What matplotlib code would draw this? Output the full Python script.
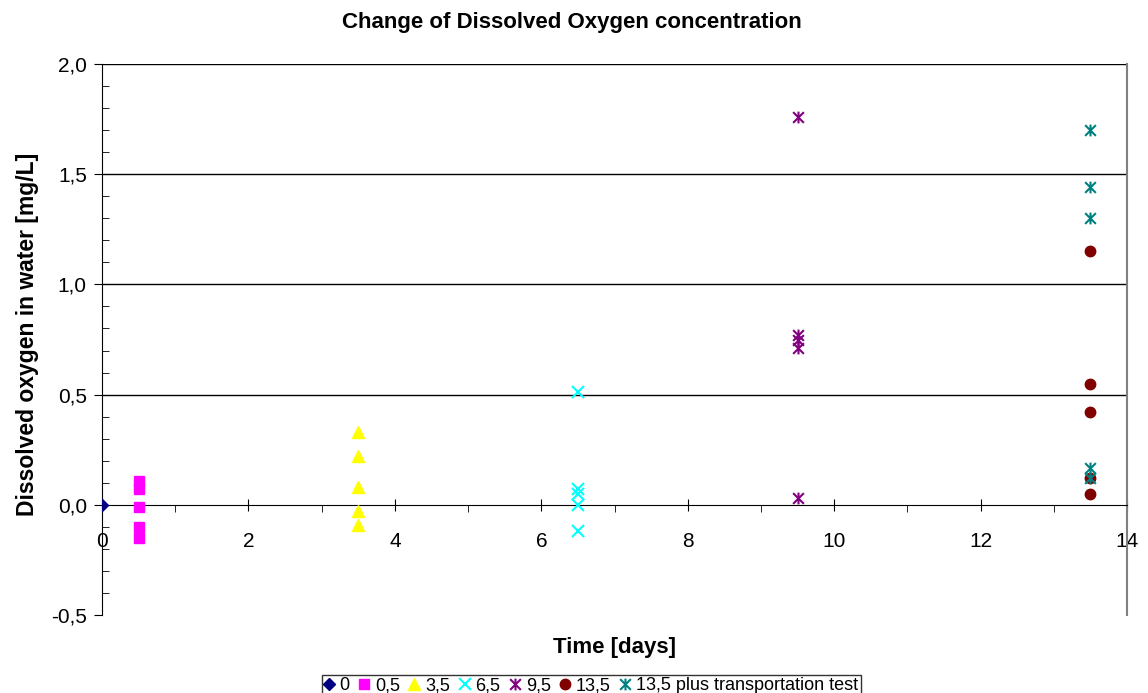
import matplotlib.pyplot as plt
import numpy as np
from matplotlib.path import Path
from matplotlib.ticker import MultipleLocator, FuncFormatter

plt.rcParams['font.family'] = ['Liberation Sans', 'DejaVu Sans']

# days and measured values per sampling day
labels = ['0', '0,5', '3,5', '6,5', '9,5', '13,5', '13,5 plus transportation test']
days = [0, 0.5, 3.5, 6.5, 9.5, 13.5, 13.5]
do_0 = [0.0]
do_05 = [0.11, 0.07, -0.01, -0.10, -0.15]
do_35 = [0.33, 0.22, 0.08, -0.03, -0.09]
do_65 = [0.51, 0.07, 0.05, 0.00, -0.12]
do_95 = [1.76, 0.77, 0.75, 0.71, 0.03]
do_135 = [1.15, 0.55, 0.42, 0.12, 0.05]
do_135t = [1.70, 1.44, 1.30, 0.165, 0.12]
values = [do_0, do_05, do_35, do_65, do_95, do_135, do_135t]

# excel style star: x with a vertical bar
star = Path([(-1, -1), (1, 1), (-1, 1), (1, -1), (0, -1.1), (0, 1.1)],
            [Path.MOVETO, Path.LINETO, Path.MOVETO, Path.LINETO, Path.MOVETO, Path.LINETO])

styles = [
    dict(marker='D', color='#000080', ms=6.5),
    dict(marker='s', color='#FF00FF', ms=7),
    dict(marker='^', color='#FFFF00', ms=8),
    dict(marker='x', color='#00FFFF', ms=8.5, mew=1.5),
    dict(marker=star, color='#800080', ms=8.5, mew=1.5),
    dict(marker='o', color='#800000', ms=7.5),
    dict(marker=star, color='#008080', ms=8.5, mew=1.5),
]

fig = plt.figure(figsize=(11.48, 6.93), dpi=100)
ax = fig.add_axes([0.0889, 0.1126, 0.8928, 0.795])

for d, v, lab, st in zip(days, values, labels, styles):
    ax.plot([d] * len(v), v, linestyle='none', label=lab, zorder=3, **st)

ax.set_xlim(0, 14)
ax.set_ylim(-0.5, 2.0)

for g in [0.5, 1.0, 1.5, 2.0]:
    ax.axhline(g, color='black', lw=1, zorder=1)

ax.spines['bottom'].set_position(('data', 0))
ax.spines['top'].set_visible(False)
ax.spines['right'].set_color('#808080')
ax.spines['right'].set_linewidth(1.5)

ax.xaxis.set_major_locator(MultipleLocator(2))
ax.xaxis.set_minor_locator(MultipleLocator(1))
ax.yaxis.set_major_locator(MultipleLocator(0.5))
ax.yaxis.set_minor_locator(MultipleLocator(0.1))
ax.yaxis.set_major_formatter(FuncFormatter(lambda v, p: '{:.1f}'.format(v).replace('.', ',')))
ax.xaxis.set_major_formatter(FuncFormatter(lambda v, p: '{:g}'.format(v)))

ax.tick_params(axis='x', which='major', direction='inout', length=9, labelsize=15, pad=15)
ax.tick_params(axis='x', which='minor', direction='out', length=5)
ax.tick_params(axis='y', which='major', direction='out', length=6, labelsize=15, pad=5)
ax.tick_params(axis='y', which='minor', direction='in', length=5)
ax.tick_params(right=False, which='both')

fig.text(0.498, 0.968, 'Change of Dissolved Oxygen concentration',
         ha='center', va='center', fontsize=16, fontweight='bold')
ax.set_ylabel('Dissolved oxygen in water [mg/L]', fontsize=16.5, fontweight='bold')
ax.yaxis.set_label_coords(-0.062, 0.51)
fig.text(0.535, 0.066, 'Time [days]', ha='center', va='center', fontsize=16, fontweight='bold')

leg = fig.legend(loc='lower center', bbox_to_anchor=(0.515, -0.006), ncol=7, fontsize=13,
                 frameon=True, fancybox=False, edgecolor='black', handlelength=0.5,
                 handletextpad=0.35, columnspacing=0.55, borderpad=0.15, borderaxespad=0)
leg.get_frame().set_linewidth(1)

fig.savefig('out.png', dpi=100)
